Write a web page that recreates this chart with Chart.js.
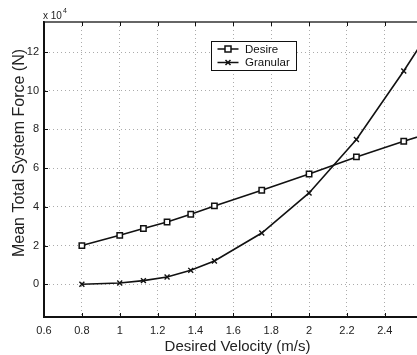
<!DOCTYPE html>
<html>
<head>
<meta charset="utf-8">
<script src="https://cdn.jsdelivr.net/npm/chart.js@4/dist/chart.umd.min.js"></script>
<style>
  html, body { margin: 0; padding: 0; background: #fff; }
  canvas { display: block; }
</style>
</head>
<body>
<canvas id="c" width="417" height="355"></canvas>
<script>
// Desired walking velocity (m/s) at which each simulation was run
const velocities = [0.8, 1.0, 1.125, 1.25, 1.375, 1.5, 1.75, 2.0, 2.25, 2.5, 2.75];
// Mean total system force (N) for each model
const desireForce   = [20000, 25300, 28800, 32200, 36200, 40500, 48600, 57000, 65800, 73900, 81500];
const granularForce = [0, 700, 1900, 3800, 7200, 12000, 26500, 47200, 74800, 110200, 148000];
const seriesNames = ['Desire', 'Granular'];
const xTickValues = [0.6, 0.8, 1.0, 1.2, 1.4, 1.6, 1.8, 2.0, 2.2, 2.4];
const yTickValues = [0, 20000, 40000, 60000, 80000, 100000, 120000];
const xTitle = 'Desired Velocity (m/s)';
const yTitle = 'Mean Total System Force (N)';

const FONT = "'Liberation Sans', Arial, Helvetica, sans-serif";
const INK = '#111';

const toPoints = (xs, ys) => xs.map((x, i) => ({ x: x, y: ys[i] }));

// Frame, inward tick marks, exponent label, axis titles and legend box
const decorations = {
  id: 'decorations',
  afterDraw(chart) {
    const ctx = chart.ctx;
    const area = chart.chartArea;
    const xs = chart.scales.x, ys = chart.scales.y;
    ctx.save();

    // top frame line
    ctx.strokeStyle = '#333';
    ctx.lineWidth = 1.3;
    ctx.beginPath();
    ctx.moveTo(area.left, area.top);
    ctx.lineTo(area.right, area.top);
    ctx.stroke();

    // inward tick marks
    ctx.lineWidth = 1;
    ctx.strokeStyle = '#111';
    const tl = 4;
    xTickValues.forEach(v => {
      const px = Math.round(xs.getPixelForValue(v)) + 0.5;
      ctx.beginPath();
      ctx.moveTo(px, area.bottom); ctx.lineTo(px, area.bottom - tl);
      ctx.moveTo(px, area.top); ctx.lineTo(px, area.top + tl);
      ctx.stroke();
    });
    yTickValues.forEach(v => {
      const py = Math.round(ys.getPixelForValue(v)) + 0.5;
      ctx.beginPath();
      ctx.moveTo(area.left, py); ctx.lineTo(area.left + tl, py);
      ctx.stroke();
    });

    // exponent label
    ctx.fillStyle = '#222';
    ctx.textBaseline = 'alphabetic';
    ctx.textAlign = 'left';
    ctx.font = '10px ' + FONT;
    ctx.fillText('x 10', area.left - 1, 18.5);
    ctx.font = '7px ' + FONT;
    ctx.fillText('4', area.left + 19, 13);

    // axis titles
    ctx.fillStyle = '#222';
    ctx.font = '15px ' + FONT;
    ctx.textAlign = 'center';
    ctx.fillText(xTitle, 237.5, 351);
    ctx.save();
    ctx.translate(23.5, 153);
    ctx.rotate(-Math.PI / 2);
    ctx.font = '16px ' + FONT;
    ctx.textBaseline = 'alphabetic';
    ctx.fillText(yTitle, 0, 0);
    ctx.restore();

    // legend
    const bx = 211.5, by = 41.5, bw = 85, bh = 29;
    ctx.fillStyle = '#fff';
    ctx.fillRect(bx, by, bw, bh);
    ctx.strokeStyle = '#111';
    ctx.lineWidth = 1;
    ctx.strokeRect(bx, by, bw, bh);
    const rows = [49, 62.5];
    chart.data.datasets.forEach((ds, i) => {
      const y = rows[i];
      ctx.strokeStyle = INK;
      ctx.lineWidth = 1.5;
      ctx.beginPath();
      ctx.moveTo(217.5, y); ctx.lineTo(238.5, y);
      ctx.stroke();
      const mx = 228;
      if (ds.pointStyle === 'rect') {
        ctx.fillStyle = '#fff';
        ctx.fillRect(mx - 3, y - 3, 6, 6);
        ctx.strokeRect(mx - 3, y - 3, 6, 6);
      } else {
        ctx.beginPath();
        ctx.moveTo(mx - 2.5, y - 2.5); ctx.lineTo(mx + 2.5, y + 2.5);
        ctx.moveTo(mx + 2.5, y - 2.5); ctx.lineTo(mx - 2.5, y + 2.5);
        ctx.stroke();
      }
      ctx.fillStyle = '#111';
      ctx.font = '11.5px ' + FONT;
      ctx.textAlign = 'left';
      ctx.textBaseline = 'middle';
      ctx.fillText(ds.label, 245, y + 0.5);
    });
    ctx.restore();
  }
};

new Chart(document.getElementById('c'), {
  type: 'line',
  data: {
    datasets: [
      {
        label: seriesNames[0],
        data: toPoints(velocities, desireForce),
        borderColor: INK,
        borderWidth: 1.6,
        pointStyle: 'rect',
        pointRadius: 3.8,
        pointBorderWidth: 1.5,
        pointBackgroundColor: '#fff',
        pointBorderColor: INK,
        tension: 0
      },
      {
        label: seriesNames[1],
        data: toPoints(velocities, granularForce),
        borderColor: INK,
        borderWidth: 1.6,
        pointStyle: 'crossRot',
        pointRadius: 3.5,
        pointBorderWidth: 1.4,
        pointBorderColor: INK,
        tension: 0
      }
    ]
  },
  options: {
    responsive: false,
    animation: false,
    devicePixelRatio: 1,
    layout: { autoPadding: false, padding: { top: 22, right: 0, left: 0, bottom: 0 } },
    plugins: {
      legend: { display: false },
      tooltip: { enabled: false }
    },
    scales: {
      x: {
        type: 'linear',
        min: 0.6,
        max: 2.57,
        afterBuildTicks: s => { s.ticks = xTickValues.map(v => ({ value: v })); },
        afterFit: s => { s.height = 38; },
        grid: { color: '#ababab', lineWidth: 1, drawTicks: false },
        border: { display: true, color: '#111', width: 2, dash: [1, 3] },
        ticks: {
          padding: 7,
          color: '#222',
          font: { family: FONT, size: 11 },
          maxRotation: 0,
          callback: v => String(Math.round(v * 10) / 10)
        }
      },
      y: {
        type: 'linear',
        min: -16900,
        max: 135500,
        afterBuildTicks: s => { s.ticks = yTickValues.map(v => ({ value: v })); },
        afterFit: s => { s.width = 44; },
        grid: { color: '#ababab', lineWidth: 1, drawTicks: false },
        border: { display: true, color: '#111', width: 2, dash: [1, 3] },
        ticks: {
          padding: 5,
          color: '#222',
          font: { family: FONT, size: 11 },
          callback: v => String(v / 10000)
        }
      }
    }
  },
  plugins: [decorations]
});
</script>
</body>
</html>
